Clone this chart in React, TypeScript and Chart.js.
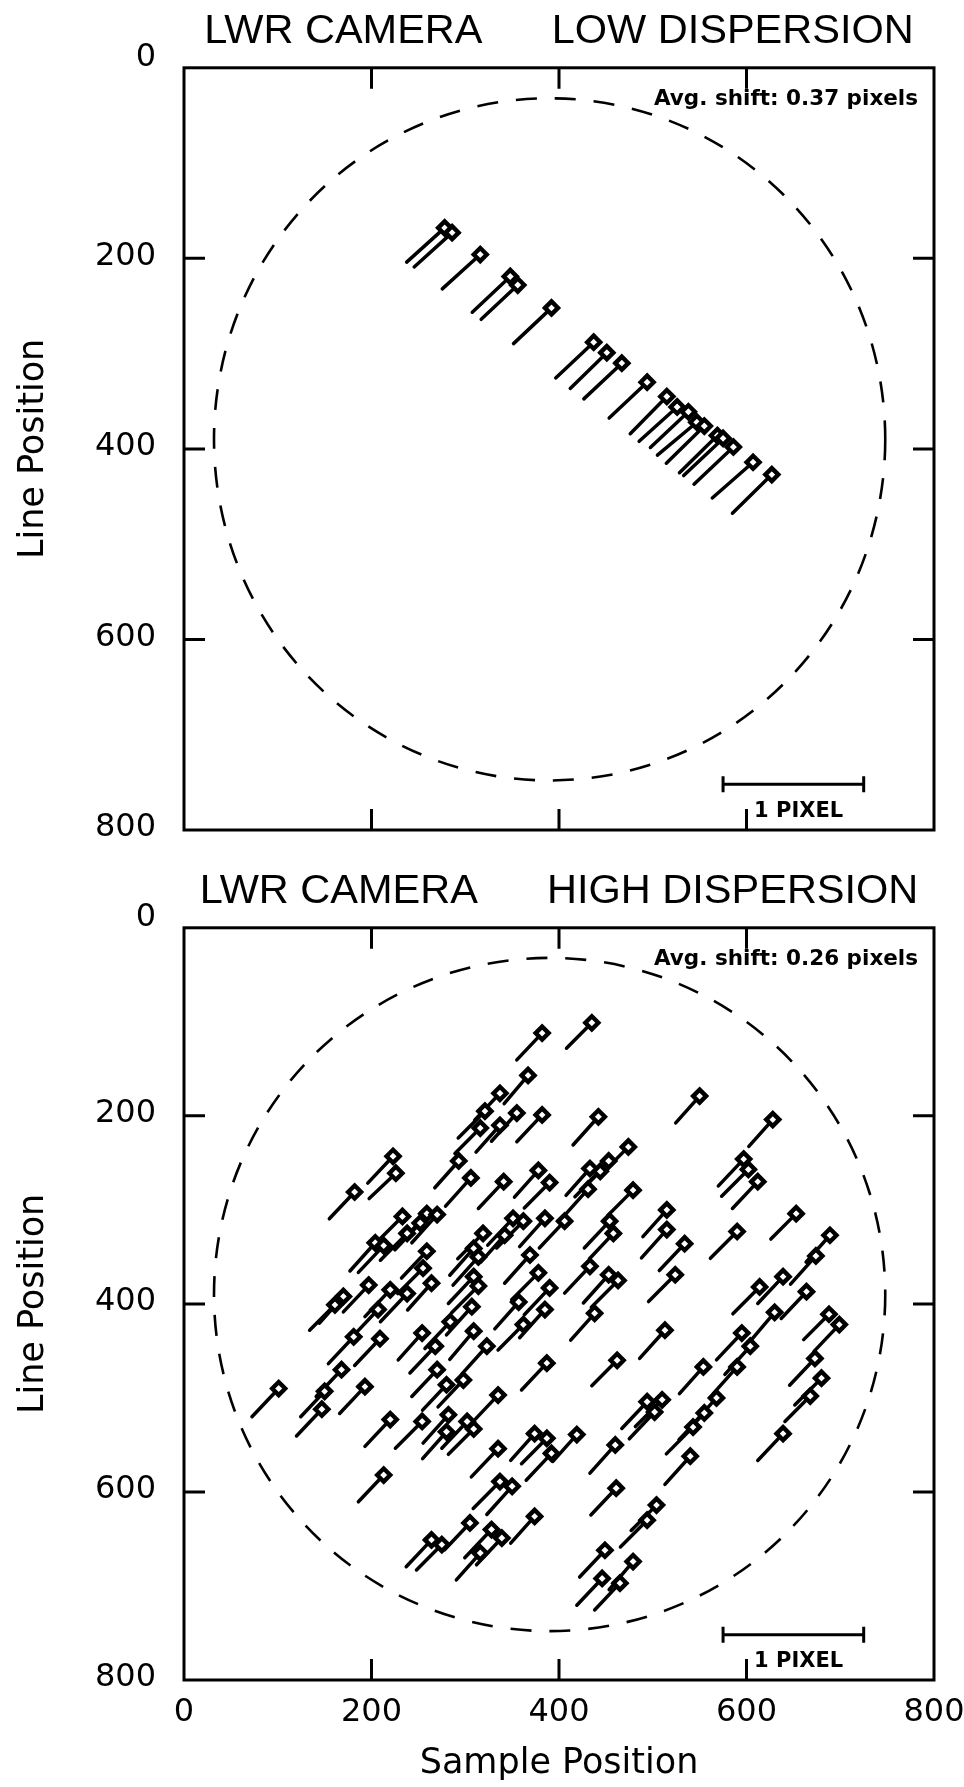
import React, { useEffect, useRef } from "react";
import { Chart, registerables } from "chart.js";

Chart.register(...registerables);

// ---------- axes / overlay constants ----------
const AXIS_MIN = 0;
const AXIS_MAX = 800;
const TICK_STEP = 200;
const PIXEL_SCALE = 150; // plot units per camera pixel (length of the "1 PIXEL" bar)
const SCALE_BAR_START = 575;
const SCALE_BAR_LINE = 752;
const CIRCLE_CENTER_X = 390;
const CIRCLE_CENTER_Y = 390;
const CIRCLE_RADIUS = 358;

const X_TITLE = "Sample Position";
const Y_TITLE = "Line Position";
const BAR_LABEL = "1 PIXEL";

// ---------- LOW DISPERSION ----------
const lowTitle = "LWR CAMERA      LOW DISPERSION";
const lowAvg = "Avg. shift: 0.37 pixels";
const lowSample = [278, 286, 316, 348, 356, 392, 437, 451, 467, 494, 515, 526, 538, 547, 555, 569, 575, 586, 607, 627];
const lowLine = [168, 173, 196, 219, 228, 252, 288, 299, 310, 330, 345, 356, 361, 372, 376, 386, 389, 398, 414, 427];
const lowShiftS = [-0.27, -0.27, -0.27, -0.27, -0.26, -0.27, -0.27, -0.26, -0.27, -0.27, -0.26, -0.27, -0.27, -0.28, -0.27, -0.27, -0.28, -0.28, -0.29, -0.28];
const lowShiftL = [0.24, 0.24, 0.24, 0.25, 0.24, 0.25, 0.25, 0.25, 0.25, 0.25, 0.26, 0.24, 0.25, 0.23, 0.26, 0.26, 0.26, 0.26, 0.25, 0.27];

// ---------- HIGH DISPERSION ----------
const highTitle = "LWR CAMERA      HIGH DISPERSION";
const highAvg = "Avg. shift: 0.26 pixels";
const highSample = [
  382, 367, 337, 321, 316, 337, 355, 382, 223, 226,
  182, 293, 306, 341, 378, 390, 233, 204, 213, 259,
  270, 252, 238, 319, 309, 314, 351, 362, 342, 385,
  259, 255, 264, 369, 378, 390, 385, 357, 362, 309,
  314, 307, 197, 170, 161, 220, 238, 207, 254, 284,
  309, 181, 209,
  435, 550, 628, 442, 474, 453, 444, 433, 431, 597,
  602, 612, 479, 515, 515, 534, 590, 653, 689, 674,
  639, 614, 664, 630, 688, 699, 595, 524, 513, 454,
  458, 406, 433, 453, 463, 438,
  268, 323, 168, 150, 147, 193, 101, 270, 298, 280,
  387, 220, 254, 282, 280, 302, 309, 335, 335, 213,
  374, 387, 392, 337, 350, 374, 305, 264, 275, 328,
  339, 316,
  604, 673, 680, 668, 639, 590, 568, 555, 543, 540,
  554, 462, 494, 510, 502, 460, 419, 461, 504, 494,
  449, 479, 446, 465,
];
const highLine = [
  112, 157, 176, 195, 213, 210, 197, 199, 243, 261,
  281, 248, 266, 270, 258, 271, 307, 335, 338, 304,
  305, 314, 325, 325, 341, 350, 309, 312, 327, 309,
  344, 362, 378, 348, 367, 383, 406, 398, 422, 371,
  381, 403, 380, 392, 401, 385, 389, 406, 431, 419,
  429, 435, 437,
  101, 179, 204, 201, 233, 248, 259, 256, 278, 246,
  257, 270, 279, 300, 321, 336, 323, 304, 327, 349,
  371, 382, 387, 409, 411, 422, 431, 369, 428, 312,
  325, 312, 360, 369, 375, 410,
  445, 445, 470, 493, 512, 488, 490, 470, 481, 486,
  463, 523, 525, 518, 536, 525, 533, 497, 554, 582,
  538, 543, 559, 589, 594, 626, 633, 651, 656, 640,
  649, 665,
  445, 458, 479, 498, 538, 467, 500, 516, 531, 562,
  467, 460, 504, 502, 515, 550, 539, 596, 614, 630,
  662, 674, 692, 697,
];
const highShiftS = [
  -0.18, -0.17, -0.18, -0.19, -0.18, -0.17, -0.18, -0.18, -0.18, -0.19,
  -0.18, -0.17, -0.18, -0.18, -0.17, -0.18, -0.19, -0.18, -0.18, -0.17,
  -0.18, -0.18, -0.19, -0.18, -0.17, -0.18, -0.18, -0.19, -0.17, -0.18,
  -0.18, -0.18, -0.17, -0.18, -0.19, -0.18, -0.18, -0.17, -0.18, -0.18,
  -0.19, -0.18, -0.18, -0.17, -0.18, -0.18, -0.19, -0.18, -0.17, -0.18,
  -0.17, -0.18, -0.18, -0.18, -0.17, -0.17, -0.18, -0.19, -0.18, -0.18,
  -0.17, -0.18, -0.18, -0.19, -0.18, -0.18, -0.17, -0.18, -0.18, -0.19,
  -0.18, -0.17, -0.18, -0.18, -0.19, -0.18, -0.17, -0.18, -0.18, -0.18,
  -0.19, -0.18, -0.18, -0.17, -0.18, -0.18, -0.18, -0.19, -0.17, -0.18,
  -0.18, -0.18, -0.17, -0.18, -0.18, -0.19, -0.18, -0.18, -0.17, -0.18,
  -0.18, -0.19, -0.18, -0.17, -0.18, -0.18, -0.18, -0.19, -0.18, -0.17,
  -0.18, -0.18, -0.19, -0.18, -0.17, -0.18, -0.18, -0.18, -0.19, -0.18,
  -0.17, -0.18, -0.18, -0.19, -0.18, -0.18, -0.17, -0.18, -0.18, -0.19,
  -0.18, -0.17, -0.18, -0.18, -0.19, -0.18, -0.18, -0.17, -0.18, -0.18,
  -0.19, -0.18, -0.17, -0.18, -0.18,
];
const highShiftL = [
  0.19, 0.20, 0.19, 0.19, 0.18, 0.19, 0.20, 0.19, 0.19, 0.18,
  0.19, 0.19, 0.20, 0.19, 0.19, 0.18, 0.19, 0.20, 0.19, 0.19,
  0.20, 0.19, 0.19, 0.18, 0.19, 0.20, 0.19, 0.19, 0.19, 0.20,
  0.19, 0.18, 0.19, 0.20, 0.19, 0.19, 0.20, 0.19, 0.18, 0.19,
  0.19, 0.20, 0.19, 0.19, 0.18, 0.19, 0.20, 0.19, 0.19, 0.19,
  0.20, 0.19, 0.19, 0.18, 0.19, 0.19, 0.20, 0.19, 0.19, 0.18,
  0.19, 0.20, 0.19, 0.19, 0.19, 0.18, 0.19, 0.20, 0.19, 0.19,
  0.18, 0.19, 0.20, 0.19, 0.19, 0.19, 0.20, 0.18, 0.19, 0.19,
  0.19, 0.20, 0.19, 0.18, 0.19, 0.19, 0.20, 0.19, 0.19, 0.19,
  0.20, 0.19, 0.18, 0.19, 0.19, 0.20, 0.19, 0.19, 0.18, 0.19,
  0.19, 0.19, 0.20, 0.19, 0.19, 0.18, 0.19, 0.20, 0.19, 0.19,
  0.18, 0.19, 0.19, 0.20, 0.19, 0.19, 0.19, 0.18, 0.20, 0.19,
  0.19, 0.20, 0.19, 0.19, 0.18, 0.19, 0.19, 0.20, 0.19, 0.19,
  0.20, 0.19, 0.18, 0.19, 0.19, 0.19, 0.20, 0.19, 0.19, 0.18,
  0.19, 0.19, 0.20, 0.19, 0.19,
];

// ---------- styling ----------
const INK = "#000000";
const SANS = "'DejaVu Sans', 'Noto Sans', sans-serif";
const TITLE_FONT = "'Liberation Sans', Arial, sans-serif";

function buildDatasets(xs: number[], ys: number[], ds: number[], dl: number[]) {
  const markers = xs.map((x, i) => ({ x, y: ys[i] }));
  const segments: { x: number; y: number | null }[] = [];
  xs.forEach((x, i) => {
    segments.push({ x, y: ys[i] });
    segments.push({ x: x + ds[i] * PIXEL_SCALE, y: ys[i] + dl[i] * PIXEL_SCALE });
    segments.push({ x, y: null });
  });
  return [
    {
      type: "scatter" as const,
      data: markers,
      pointStyle: "rectRot",
      pointRadius: 6.5,
      pointBorderWidth: 4.4,
      pointBackgroundColor: "#ffffff",
      pointBorderColor: INK,
      showLine: false,
      order: 0,
    },
    {
      type: "scatter" as const,
      data: segments,
      showLine: true,
      spanGaps: false,
      borderColor: INK,
      borderWidth: 3.5,
      borderCapStyle: "round",
      pointRadius: 0,
      pointHitRadius: 0,
      order: 1,
    },
  ];
}

function decorPlugin(avgText: string) {
  return {
    id: "decor",
    beforeDatasetsDraw(chart: any) {
      const { ctx } = chart;
      const x = chart.scales.x;
      const y = chart.scales.y;
      const cx = x.getPixelForValue(CIRCLE_CENTER_X);
      const cy = y.getPixelForValue(CIRCLE_CENTER_Y);
      const rx = Math.abs(x.getPixelForValue(CIRCLE_CENTER_X + CIRCLE_RADIUS) - cx);
      const ry = Math.abs(y.getPixelForValue(CIRCLE_CENTER_Y + CIRCLE_RADIUS) - cy);
      ctx.save();
      ctx.setLineDash([21, 18]);
      ctx.lineWidth = 2.6;
      ctx.strokeStyle = INK;
      ctx.beginPath();
      ctx.ellipse(cx, cy, rx, ry, 0, 0, Math.PI * 2);
      ctx.stroke();
      ctx.restore();
    },
    afterDatasetsDraw(chart: any) {
      const { ctx, chartArea } = chart;
      const { left, right, top, bottom } = chartArea;
      const x = chart.scales.x;
      const y = chart.scales.y;
      ctx.save();
      ctx.strokeStyle = INK;
      ctx.fillStyle = INK;
      ctx.lineWidth = 3;
      ctx.setLineDash([]);
      // frame
      ctx.strokeRect(left, top, right - left, bottom - top);
      // inward ticks on all four sides
      const TL = 21;
      x.ticks.forEach((t: any) => {
        if (t.value <= AXIS_MIN || t.value >= AXIS_MAX) return;
        const px = x.getPixelForValue(t.value);
        ctx.beginPath();
        ctx.moveTo(px, bottom);
        ctx.lineTo(px, bottom - TL);
        ctx.moveTo(px, top);
        ctx.lineTo(px, top + TL);
        ctx.stroke();
      });
      y.ticks.forEach((t: any) => {
        if (t.value <= AXIS_MIN || t.value >= AXIS_MAX) return;
        const py = y.getPixelForValue(t.value);
        ctx.beginPath();
        ctx.moveTo(left, py);
        ctx.lineTo(left + TL, py);
        ctx.moveTo(right, py);
        ctx.lineTo(right - TL, py);
        ctx.stroke();
      });
      // scale bar
      const x1 = x.getPixelForValue(SCALE_BAR_START);
      const x2 = x.getPixelForValue(SCALE_BAR_START + PIXEL_SCALE);
      const yb = y.getPixelForValue(SCALE_BAR_LINE);
      ctx.beginPath();
      ctx.moveTo(x1, yb);
      ctx.lineTo(x2, yb);
      ctx.moveTo(x1, yb - 8);
      ctx.lineTo(x1, yb + 8);
      ctx.moveTo(x2, yb - 8);
      ctx.lineTo(x2, yb + 8);
      ctx.stroke();
      // texts
      ctx.font = `bold 21px ${SANS}`;
      ctx.textBaseline = "middle";
      ctx.textAlign = "left";
      ctx.fillText(BAR_LABEL, x1 + 31, bottom - 18);
      ctx.font = `bold 21.5px ${SANS}`;
      ctx.textAlign = "right";
      ctx.fillText(avgText, right - 16, top + 32);
      ctx.restore();
    },
  };
}

function zeroPadding(s: any) {
  s.paddingLeft = 0;
  s.paddingRight = 0;
  s.paddingTop = 0;
  s.paddingBottom = 0;
}

function Panel(props: {
  title: string;
  avg: string;
  xs: number[];
  ys: number[];
  ds: number[];
  dl: number[];
  showX: boolean;
  height: number;
  xAxisHeight: number;
  top: number;
}) {
  const ref = useRef<HTMLCanvasElement | null>(null);
  useEffect(() => {
    if (!ref.current) return;
    const chart = new Chart(ref.current, {
      type: "scatter",
      data: { datasets: buildDatasets(props.xs, props.ys, props.ds, props.dl) as any },
      options: {
        animation: false,
        responsive: false,
        maintainAspectRatio: false,
        events: [],
        layout: { padding: { left: 0, right: 30, top: 0, bottom: 0 } },
        plugins: {
          legend: { display: false },
          tooltip: { enabled: false },
          title: {
            display: true,
            text: props.title,
            fullSize: false,
            color: INK,
            font: { family: TITLE_FONT, size: 41.5, weight: "normal" },
            padding: { top: 7, bottom: 11 },
          },
        },
        scales: {
          x: {
            type: "linear",
            position: "bottom",
            min: AXIS_MIN,
            max: AXIS_MAX,
            grid: { display: false, drawTicks: false },
            border: { display: false },
            ticks: {
              display: props.showX,
              stepSize: TICK_STEP,
              color: INK,
              padding: 13,
              maxRotation: 0,
              font: { family: SANS, size: 32 },
            },
            title: {
              display: props.showX,
              text: X_TITLE,
              color: INK,
              font: { family: SANS, size: 35 },
              padding: { top: 0, bottom: 2 },
            },
            afterFit: (s: any) => {
              s.height = props.xAxisHeight;
              zeroPadding(s);
            },
          },
          y: {
            type: "linear",
            min: AXIS_MIN,
            max: AXIS_MAX,
            reverse: true,
            grid: { display: false, drawTicks: false },
            border: { display: false },
            ticks: {
              stepSize: TICK_STEP,
              color: INK,
              padding: 28,
              labelOffset: -2,
              callback: (v: any) => (Number(v) === AXIS_MIN ? [String(v), ""] : String(v)),
              font: (c: any) => ({
                family: SANS,
                size: 32,
                lineHeight: c && c.tick && c.tick.value === AXIS_MIN ? 0.5 : 1.2,
              }),
            },
            title: {
              display: true,
              text: Y_TITLE,
              color: INK,
              font: { family: SANS, size: 35 },
              padding: { top: 13, bottom: 0 },
            },
            afterFit: (s: any) => {
              s.width = 184;
              zeroPadding(s);
            },
          },
        },
      } as any,
      plugins: [decorPlugin(props.avg)],
    });
    return () => chart.destroy();
  }, []);
  return (
    <canvas
      ref={ref}
      width={964}
      height={props.height}
      style={{ position: "absolute", left: 0, top: props.top, width: 964, height: props.height }}
    />
  );
}

export default function App() {
  return (
    <div style={{ position: "absolute", left: 0, top: 0, width: 964, height: 1787, background: "#ffffff" }}>
      <Panel
        title={lowTitle}
        avg={lowAvg}
        xs={lowSample}
        ys={lowLine}
        ds={lowShiftS}
        dl={lowShiftL}
        showX={false}
        height={870}
        xAxisHeight={40}
        top={0}
      />
      <Panel
        title={highTitle}
        avg={highAvg}
        xs={highSample}
        ys={highLine}
        ds={highShiftS}
        dl={highShiftL}
        showX={true}
        height={927}
        xAxisHeight={107}
        top={860}
      />
    </div>
  );
}
